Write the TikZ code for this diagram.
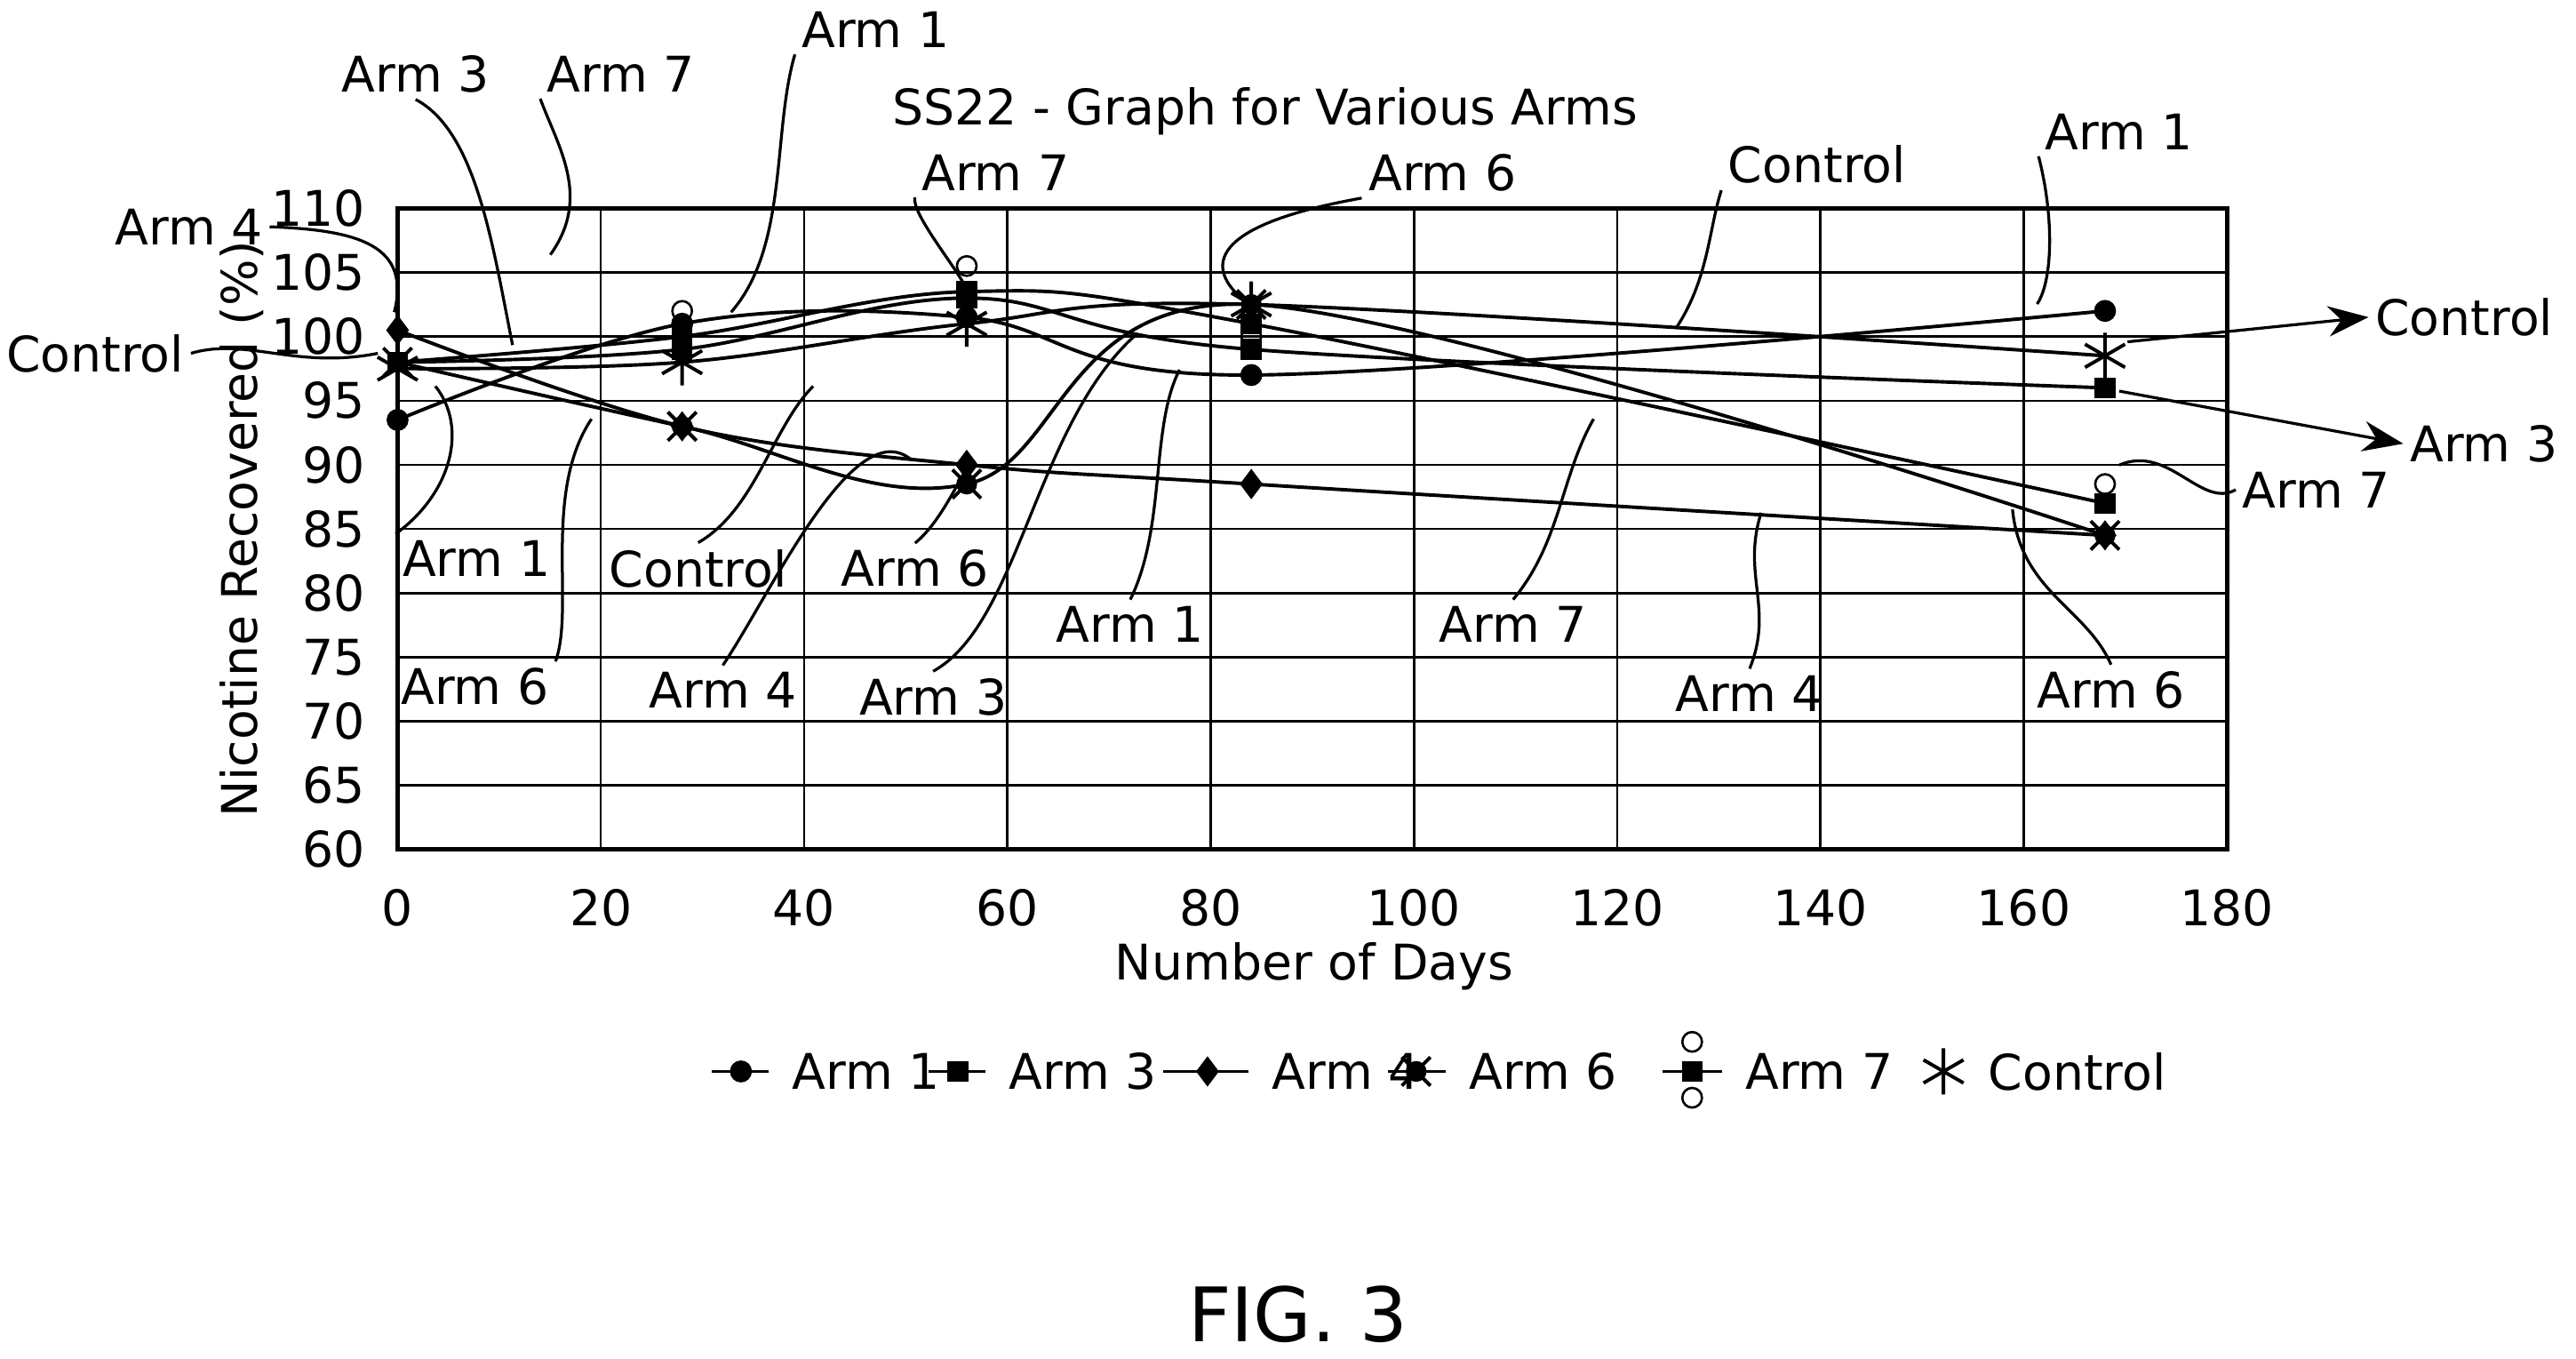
\documentclass[tikz,border=0pt]{standalone}
\usepackage{fontspec}
\setmainfont{DejaVu Sans}
\usetikzlibrary{plotmarks,arrows.meta}
\begin{document}
\begin{tikzpicture}[x=0.01cm,y=-0.01cm,font=\fontsize{7.5}{9}\selectfont,
  lead/.style={line width=0.5pt},
  curve/.style={line width=0.6pt,smooth,tension=0.6},
  lbl/.style={inner sep=1pt}]
\useasboundingbox (0,0) rectangle (1568,827);
% data scope
\begin{scope}[shift={(242,517)},x=0.06183cm,y=0.078cm]
 \draw[line width=0.4pt] (0,0) grid[xstep=20,ystep=5] (180,50);
 \draw[line width=0.8pt] (0,0) rectangle (180,50);
 \foreach \v in {0,20,...,180} \node[anchor=north] (xt\v) at (\v,-1.5) {\fontsize{8.5}{10}\selectfont\v};
 \foreach \v in {60,65,...,110} \node[anchor=east] (yt\v) at (-1.2,\v-60) {\fontsize{8.5}{10}\selectfont\v};
 % curves
 \draw[curve] plot coordinates {(0,33.5)(28,41)(56,41.5)(84,37)(168,42)};
 \draw[curve] plot coordinates {(0,38)(28,39)(56,43)(84,39)(168,36)};
 \draw[curve] plot coordinates {(0,40.5)(28,33)(56,30)(84,28.5)(168,24.5)};
 \draw[curve] plot coordinates {(0,38)(28,33)(56,28.5)(84,42.5)(168,24.5)};
 \draw[curve] plot coordinates {(0,38)(28,40)(56,43.5)(84,41)(168,27)};
 \draw[curve] plot coordinates {(0,37.5)(28,38)(56,41)(84,42.5)(168,38.5)};
 % markers
 \draw plot[only marks,mark=*,mark size=1.7pt] coordinates {(0,33.5)(28,41)(56,41.5)(84,37)(168,42)};
 \draw plot[only marks,mark=square*,mark size=1.6pt] coordinates {(0,38)(28,39)(56,43)(84,39)(168,36)};
 \draw plot[only marks,mark=diamond*,mark size=2.3pt] coordinates {(0,40.5)(28,33)(56,30)(84,28.5)(168,24.5)};
 \draw plot[only marks,mark=x,mark size=3.5pt,mark options={line width=0.6pt}] coordinates {(0,38)(28,33)(56,28.5)(84,42.5)(168,24.5)};
 \draw plot[only marks,mark=*,mark size=1.6pt] coordinates {(0,38)(28,33)(56,28.5)(84,42.5)(168,24.5)};
 \draw plot[only marks,mark=o,mark size=1.7pt] coordinates {(28,42)(56,45.5)(84,40)(168,28.5)};
 \draw plot[only marks,mark=square*,mark size=1.6pt] coordinates {(28,40)(56,43.5)(84,41)(168,27)};
 \draw plot[only marks,mark=asterisk,mark size=4pt,mark options={line width=0.6pt}] coordinates {(0,37.5)(28,38)(56,41)(84,42.5)(168,38.5)};
\end{scope}
% titles
\node (title) at (770,68) {\fontsize{8.5}{10}\selectfont SS22 - Graph for Various Arms};
\node[rotate=90] (ylab) at (147,322) {\fontsize{8.5}{10}\selectfont Nicotine Recovered (\%)};
\node (xlab) at (800,588) {\fontsize{8.5}{10}\selectfont Number of Days};
\node (fig) at (790,800) {\fontsize{13}{15}\selectfont FIG. 3};
% callouts
\node[lbl] (l1) at (253,45) {\fontsize{8.5}{10}\selectfont Arm 3};
\draw[lead] (l1.south) .. controls (290,80) and (300,150) .. (312,210);
\node[lbl] (l2) at (378,45) {\fontsize{8.5}{10}\selectfont Arm 7};
\draw[lead] (l2.south west) .. controls (340,90) and (360,120) .. (335,155);
\node[lbl] (l3) at (533,18) {\fontsize{8.5}{10}\selectfont Arm 1};
\draw[lead] (l3.south west) .. controls (470,80) and (480,150) .. (445,190);
\node[lbl] (l4) at (115,138) {\fontsize{8.5}{10}\selectfont Arm 4};
\draw[lead] (l4.east) .. controls (220,140) and (250,150) .. (240,190);
\node[lbl] (l5) at (58,215) {\fontsize{8.5}{10}\selectfont Control};
\draw[lead] (l5.east) .. controls (150,205) and (180,225) .. (230,215);
\node[lbl] (l6) at (606,105) {\fontsize{8.5}{10}\selectfont Arm 7};
\draw[lead] (l6.south west) .. controls (555,130) and (580,160) .. (588,175);
\node[lbl] (l7) at (878,105) {\fontsize{8.5}{10}\selectfont Arm 6};
\draw[lead] (l7.south west) .. controls (720,140) and (740,170) .. (760,185);
\node[lbl] (l8) at (1106,100) {\fontsize{8.5}{10}\selectfont Control};
\draw[lead] (l8.south west) .. controls (1040,140) and (1040,170) .. (1020,200);
\node[lbl] (l9) at (1290,80) {\fontsize{8.5}{10}\selectfont Arm 1};
\draw[lead] (l9.south west) .. controls (1250,130) and (1250,170) .. (1240,185);
\node[lbl] (l10) at (1500,193) {\fontsize{8.5}{10}\selectfont Control};
\coordinate (c10) at (1295,208);
\draw[lead,-{Stealth[length=7pt]}] (c10) -- (l10.west);
\node[lbl] (l11) at (1512,270) {\fontsize{8.5}{10}\selectfont Arm 3};
\coordinate (c11) at (1290,238);
\draw[lead,-{Stealth[length=7pt]}] (c11) -- (l11.west);
\node[lbl] (l12) at (1410,298) {\fontsize{8.5}{10}\selectfont Arm 7};
\draw[lead] (l12.west) .. controls (1340,310) and (1320,270) .. (1290,283);
\node[lbl] (l13) at (1285,420) {\fontsize{8.5}{10}\selectfont Arm 6};
\draw[lead] (l13.north) .. controls (1270,370) and (1230,360) .. (1225,310);
\node[lbl] (l14) at (1065,422) {\fontsize{8.5}{10}\selectfont Arm 4};
\draw[lead] (l14.north) .. controls (1080,370) and (1060,350) .. (1072,312);
\node[lbl] (l15) at (921,380) {\fontsize{8.5}{10}\selectfont Arm 7};
\draw[lead] (l15.north) .. controls (950,330) and (950,290) .. (970,255);
\node[lbl] (l16) at (688,380) {\fontsize{8.5}{10}\selectfont Arm 1};
\draw[lead] (l16.north) .. controls (710,320) and (700,260) .. (718,225);
\node[lbl] (l17) at (568,424) {\fontsize{8.5}{10}\selectfont Arm 3};
\draw[lead] (l17.north) .. controls (620,380) and (630,260) .. (690,205);
\node[lbl] (l18) at (557,346) {\fontsize{8.5}{10}\selectfont Arm 6};
\draw[lead] (l18.north) .. controls (570,320) and (580,300) .. (590,282);
\node[lbl] (l19) at (440,420) {\fontsize{8.5}{10}\selectfont Arm 4};
\draw[lead] (l19.north) .. controls (470,360) and (520,250) .. (555,280);
\node[lbl] (l20) at (425,346) {\fontsize{8.5}{10}\selectfont Control};
\draw[lead] (l20.north) .. controls (460,310) and (470,260) .. (495,235);
\node[lbl] (l21) at (289,418) {\fontsize{8.5}{10}\selectfont Arm 6};
\draw[lead] (l21.north east) .. controls (350,370) and (330,300) .. (360,255);
\node[lbl] (l22) at (290,340) {\fontsize{8.5}{10}\selectfont Arm 1};
\draw[lead] (l22.north west) .. controls (275,300) and (285,260) .. (265,235);
% legend
\draw[line width=0.6pt] (433,652) -- (468,652);
\draw plot[only marks,mark=*,mark size=1.7pt] coordinates {(451,652)};
\node[anchor=west] (g1) at (470,652) {\fontsize{8.5}{10}\selectfont Arm 1};
\draw[line width=0.6pt] (565,652) -- (600,652);
\draw plot[only marks,mark=square*,mark size=1.6pt] coordinates {(583,652)};
\node[anchor=west] (g2) at (602,652) {\fontsize{8.5}{10}\selectfont Arm 3};
\draw[line width=0.6pt] (708,652) -- (760,652);
\draw plot[only marks,mark=diamond*,mark size=2.3pt] coordinates {(735,652)};
\node[anchor=west] (g3) at (762,652) {\fontsize{8.5}{10}\selectfont Arm 4};
\draw[line width=0.6pt] (845,652) -- (880,652);
\draw plot[only marks,mark=x,mark size=3.5pt,mark options={line width=0.6pt}] coordinates {(862,652)};
\draw plot[only marks,mark=*,mark size=1.6pt] coordinates {(862,652)};
\node[anchor=west] (g4) at (882,652) {\fontsize{8.5}{10}\selectfont Arm 6};
\draw[line width=0.6pt] (1012,652) -- (1048,652);
\draw plot[only marks,mark=square*,mark size=1.6pt] coordinates {(1030,652)};
\draw plot[only marks,mark=o,mark size=1.7pt] coordinates {(1030,634)(1030,668)};
\node[anchor=west] (g5) at (1050,652) {\fontsize{8.5}{10}\selectfont Arm 7};
\draw plot[only marks,mark=asterisk,mark size=4pt,mark options={line width=0.6pt}] coordinates {(1183,652)};
\node[anchor=west] (g6) at (1198,652) {\fontsize{8.5}{10}\selectfont Control};
\end{tikzpicture}
\end{document}
